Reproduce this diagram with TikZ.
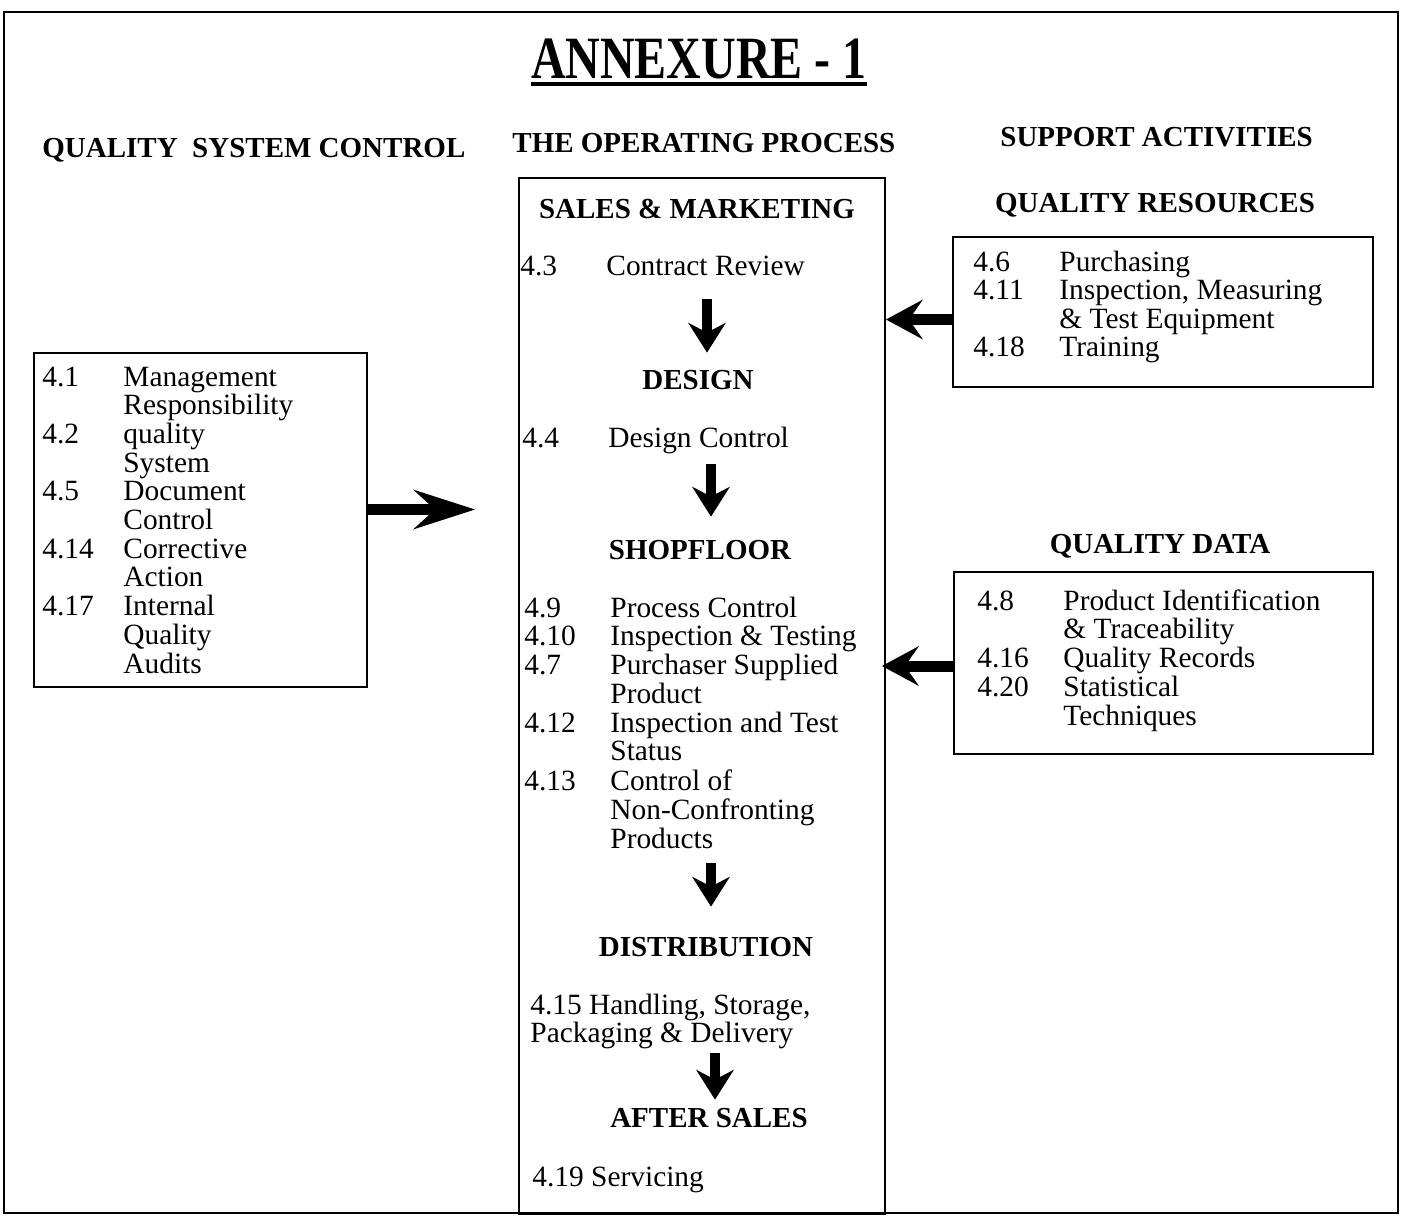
\documentclass[tikz,border=0pt]{standalone}
\usepackage{graphicx}
\usepackage{fontspec}
\setmainfont{Liberation Serif}
\usetikzlibrary{arrows.meta}

\newcommand\itemfnt{\fontsize{14.7}{14.25}\selectfont}
\newcommand\headfnt{\fontsize{14.5}{14.25}\selectfont\bfseries}

\begin{document}
\begin{tikzpicture}[x=0.5pt,y=-0.5pt,
    box/.style={draw,line width=1pt,inner sep=0,anchor=north west},
    head/.style={font=\headfnt,inner sep=1pt,anchor=base},
    item/.style={font=\itemfnt,inner sep=0,anchor=base west},
    downarr/.style={line width=5pt,-{Stealth[length=15pt,width=19pt,inset=5pt,line width=0pt]}},
    backarr/.style={line width=5.5pt,-{Stealth[length=18.5pt,width=20pt,inset=7pt,line width=0pt]}},
    bigarr/.style={line width=5.5pt,-{Stealth[length=31pt,width=20pt,inset=11pt,line width=0pt]}}]
    \useasboundingbox (0,0) rectangle (1407,1227);
    \draw[line width=1.2pt] (4,12) rectangle (1398,1213);

    % title and column heads
    \node (title) [inner sep=0,anchor=base] at (699,78)
      {\fontsize{30}{30}\selectfont\bfseries\scalebox{0.8}[1]{ANNEXURE - 1}};
    \draw[line width=1.6pt] ([yshift=-3pt]title.base west) -- ([yshift=-3pt]title.base east);
    \node (qsc) [head,anchor=base west] at (40,157) {QUALITY\ \ SYSTEM CONTROL};
    \node (opp) [head,anchor=base west] at (510,152) {THE OPERATING PROCESS};
    \node (sup) [head,anchor=base west] at (998,146) {SUPPORT ACTIVITIES};

    % quality system control
    \node (qscbox) [box,minimum width=166.5pt,minimum height=167pt] at (33,352) {};
    \node (qsclist) [item] at (42,386) {\begin{tabular}[t]{@{}p{40.5pt}@{}l@{}}
      4.1 & Management\\ & Responsibility\\ 4.2 & quality\\ & System\\
      4.5 & Document\\ & Control\\ 4.14 & Corrective\\ & Action\\
      4.17 & Internal\\ & Quality\\ & Audits\end{tabular}};

    % the operating process
    \node (op) [box,minimum width=183pt,minimum height=518pt] at (518,177) {};
    \node (sales) [head] at (697,218) {SALES \& MARKETING};
    \node (crev) [item] at (520,275) {\begin{tabular}[t]{@{}p{43pt}@{}l@{}}
      4.3 & Contract Review\end{tabular}};
    \node (design) [head] at (698,389) {DESIGN};
    \node (dctrl) [item] at (522,447) {\begin{tabular}[t]{@{}p{43pt}@{}l@{}}
      4.4 & Design Control\end{tabular}};
    \node (shop) [head] at (700,559) {SHOPFLOOR};
    \node (shoplist) [item] at (524,617) {\begin{tabular}[t]{@{}p{43pt}@{}l@{}}
      4.9 & Process Control\\ 4.10 & Inspection \& Testing\\
      4.7 & Purchaser Supplied\\ & Product\\ 4.12 & Inspection and Test\\
      & Status\\ 4.13 & Control of\\ & Non-Confronting\\ & Products\end{tabular}};
    \node (dist) [head] at (706,956) {DISTRIBUTION};
    \node (distlist) [item] at (530,1014) {\begin{tabular}[t]{@{}l@{}}
      4.15 Handling, Storage,\\ Packaging \& Delivery\end{tabular}};
    \node (after) [head] at (709,1127) {AFTER SALES};
    \node (serv) [item] at (532,1186) {4.19 Servicing};

    % support activities
    \node (res) [head] at (1155,212) {QUALITY RESOURCES};
    \node (resbox) [box,minimum width=210pt,minimum height=75pt] at (952,236) {};
    \node (reslist) [item] at (973,271) {\begin{tabular}[t]{@{}p{43pt}@{}l@{}}
      4.6 & Purchasing\\ 4.11 & Inspection, Measuring\\ & \& Test Equipment\\
      4.18 & Training\end{tabular}};
    \node (data) [head] at (1160,553) {QUALITY DATA};
    \node (databox) [box,minimum width=209.5pt,minimum height=91pt] at (953,571) {};
    \node (datalist) [item] at (977,610) {\begin{tabular}[t]{@{}p{43pt}@{}l@{}}
      4.8 & Product Identification\\ & \& Traceability\\ 4.16 & Quality Records\\
      4.20 & Statistical\\ & Techniques\end{tabular}};

    % arrows
    \draw[bigarr,shorten >=21.5pt] ([yshift=5.25pt]qscbox.east) -- ([yshift=5.25pt]qscbox.east -| op.west);
    \draw[backarr] ([yshift=-3.75pt]resbox.west) -- ([yshift=-3.75pt]resbox.west -| op.east);
    \draw[backarr,shorten >=-2pt] ([yshift=-1.5pt]databox.west) -- ([yshift=-1.5pt]databox.west -| op.east);
    \draw[downarr,shorten <=7.7pt,shorten >=7.4pt] ([xshift=4.5pt]design.north |- crev.south) -- ([xshift=4.5pt]design.north);
    \draw[downarr,shorten <=4pt,shorten >=10.4pt] ([xshift=5.5pt]shop.north |- dctrl.south) -- ([xshift=5.5pt]shop.north);
    \draw[downarr,shorten <=3pt,shorten >=13.9pt] ([xshift=2.5pt]dist.north |- shoplist.south) -- ([xshift=2.5pt]dist.north);
    \draw[downarr,shorten <=0.5pt,shorten >=2.9pt] ([xshift=3pt]after.north |- distlist.south) -- ([xshift=3pt]after.north);
\end{tikzpicture}
\end{document}
